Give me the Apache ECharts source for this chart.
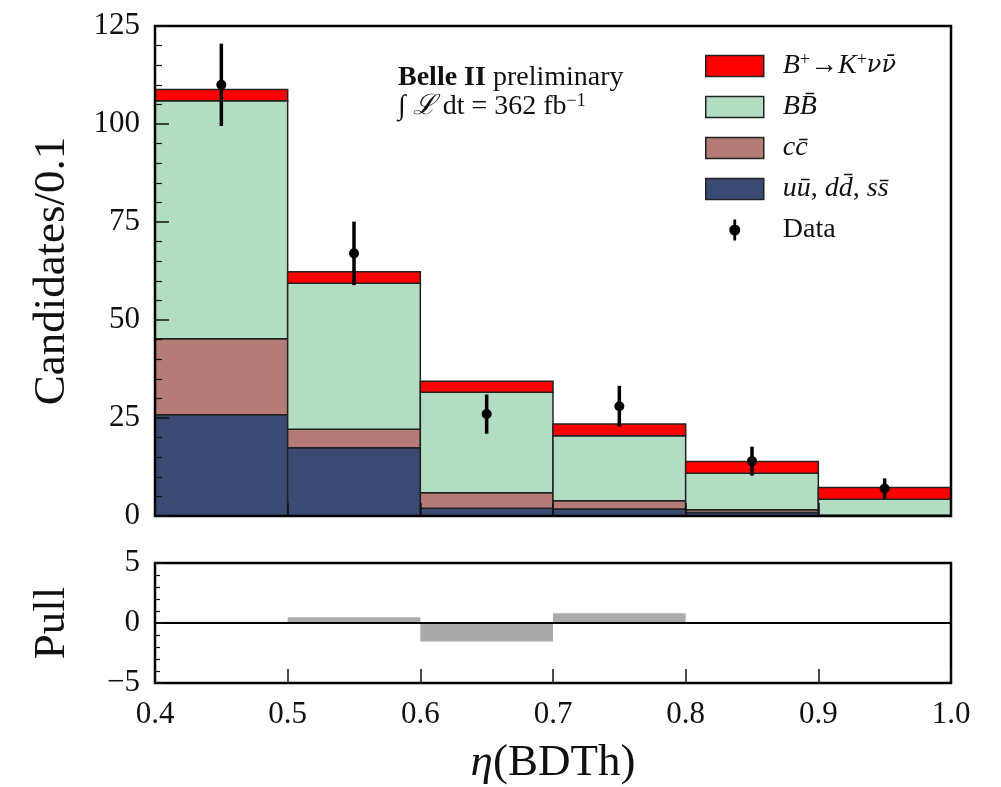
<!DOCTYPE html>
<html>
<head>
<meta charset="utf-8">
<script src="https://cdn.jsdelivr.net/npm/echarts@6/dist/echarts.min.js"></script>
<style>
  html, body { margin: 0; padding: 0; background: #fff; }
  #chart { width: 1001px; height: 787px; }
</style>
</head>
<body>
<div id="chart"></div>
<script>
// bins in eta(BDTh)
const binLow = [0.4, 0.5, 0.6, 0.7, 0.8, 0.9]
const binHigh = [0.5, 0.6, 0.7, 0.8, 0.9, 1.0]
const binCenter = [0.45, 0.55, 0.65, 0.75, 0.85, 0.95]

// stacked templates, bottom to top
const qqbar = [25.8, 17.4, 2.0, 1.8, 0.9, 0.1]
const ccbar = [19.4, 4.7, 3.9, 2.1, 0.7, 0.1]
const bbbar = [60.7, 37.3, 25.7, 16.6, 9.3, 4.1]
const signal = [2.9, 2.9, 2.8, 3.0, 3.0, 3.0]

// data points
const dataY = [110, 67, 26, 28, 14, 7]
const dataErr = [10.5, 8.1, 5.0, 5.2, 3.7, 2.6]

// pull panel
const pull = [0.1, 0.47, -1.55, 0.82, 0.03, -0.08]

const serif = 'Liberation Serif'
const ink = '#111'

// build stacked rect data: [low, high, base, top]
function stackData (values, below) {
  return values.map((v, i) => {
    let base = 0
    below.forEach(arr => { base += arr[i] })
    return [binLow[i], binHigh[i], base, base + v]
  })
}

function rectItem (color) {
  return function (params, api) {
    const p0 = api.coord([api.value(0), api.value(2)])
    const p1 = api.coord([api.value(1), api.value(3)])
    return {
      type: 'rect',
      shape: { x: p0[0], y: p1[1], width: p1[0] - p0[0], height: p0[1] - p1[1] },
      style: { fill: color, stroke: '#222', lineWidth: 1.5 }
    }
  }
}

function stackSeries (name, values, below, color) {
  return {
    name: name,
    type: 'custom',
    xAxisIndex: 0,
    yAxisIndex: 0,
    renderItem: rectItem(color),
    itemStyle: { color: color },
    encode: { x: [0, 1], y: [2, 3] },
    data: stackData(values, below),
    z: 2
  }
}

const chart = echarts.init(document.getElementById('chart'))

const tickLabel = { fontFamily: serif, fontSize: 31, color: ink }
const nameStyle = {
  fontFamily: serif,
  fontSize: 45,
  color: ink,
  rich: { i: { fontFamily: serif, fontStyle: 'italic', fontSize: 45, color: ink } }
}

// legend icon for data: errorbar + dot, corner points keep the 58x21 box
const dataIcon = 'path://M0,0 L0,0 M58,21 L58,21 M27.6,0 L30.4,0 L30.4,21 L27.6,21 Z ' +
  'M23.5,10.5 A5.5,5.5 0 1,1 34.5,10.5 A5.5,5.5 0 1,1 23.5,10.5 Z'

const legendRich = {
  i: { fontFamily: serif, fontStyle: 'italic', fontSize: 28, color: ink, lineHeight: 30 },
  g: { fontFamily: 'DejaVu Serif', fontStyle: 'italic', fontSize: 24, color: ink, lineHeight: 30 },
  n: { fontFamily: serif, fontSize: 28, color: ink, lineHeight: 30 },
  s: { fontFamily: serif, fontSize: 18, color: ink, lineHeight: 18, verticalAlign: 'top' }
}
const legendText = {
  'B+ signal': '{i|B}{s|+}{n|→}{i|K}{s|+}{g|νν̄}',
  'BB': '{i|BB̄}',
  'cc': '{i|cc̄}',
  'qq': '{i|uū}{n|, }{i|dd̄}{n|, }{i|ss̄}',
  'Data': '{n|Data}'
}

const option = {
  animation: false,
  backgroundColor: '#fff',
  grid: [
    { left: 155, top: 26, width: 796, height: 490, show: true, borderColor: '#000', borderWidth: 2.5, z: 10 },
    { left: 155, top: 563, width: 796, height: 123, show: true, borderColor: '#000', borderWidth: 2.5, z: 10 }
  ],
  legend: {
    orient: 'vertical',
    left: 700,
    top: 46,
    itemWidth: 58,
    itemHeight: 21,
    itemGap: 13,
    itemStyle: { borderColor: '#222', borderWidth: 1.5 },
    textStyle: { padding: [0, 0, 0, 14], rich: legendRich },
    formatter: name => legendText[name],
    data: [
      { name: 'B+ signal', icon: 'rect' },
      { name: 'BB', icon: 'rect' },
      { name: 'cc', icon: 'rect' },
      { name: 'qq', icon: 'rect' },
      { name: 'Data', icon: dataIcon, itemStyle: { borderWidth: 0 } }
    ]
  },
  xAxis: [
    {
      type: 'value',
      gridIndex: 0,
      min: 0.4,
      max: 1.0,
      interval: 0.1,
      z: 10,
      axisLine: { show: false, onZero: false },
      axisTick: { inside: true, length: 13, lineStyle: { color: ink, width: 1.5 } },
      axisLabel: { show: false },
      splitLine: { show: false }
    },
    {
      type: 'value',
      gridIndex: 1,
      min: 0.4,
      max: 1.0,
      interval: 0.1,
      z: 10,
      name: '{i|η}(BDTh)',
      nameLocation: 'middle',
      nameGap: 58,
      nameTextStyle: nameStyle,
      axisLine: { show: false, onZero: false },
      axisTick: { inside: true, length: 14, lineStyle: { color: ink, width: 1.5 } },
      axisLabel: Object.assign({ margin: 16, formatter: v => v.toFixed(1) }, tickLabel),
      splitLine: { show: false }
    }
  ],
  yAxis: [
    {
      type: 'value',
      gridIndex: 0,
      min: 0,
      max: 125,
      interval: 25,
      z: 10,
      name: 'Candidates/0.1',
      nameLocation: 'middle',
      nameGap: 80,
      nameTextStyle: nameStyle,
      axisLine: { show: false },
      axisTick: { inside: true, length: 14, lineStyle: { color: ink, width: 1.5 } },
      minorTick: { show: true, splitNumber: 5, length: 7, lineStyle: { color: ink, width: 1.2 } },
      axisLabel: Object.assign({ margin: 15 }, tickLabel),
      splitLine: { show: false }
    },
    {
      type: 'value',
      gridIndex: 1,
      min: -5,
      max: 5,
      interval: 5,
      z: 10,
      name: 'Pull',
      nameLocation: 'middle',
      nameGap: 80,
      nameTextStyle: nameStyle,
      axisLine: { show: false },
      axisTick: { inside: true, length: 9, lineStyle: { color: ink, width: 1.5 } },
      minorTick: { show: true, splitNumber: 5, length: 5, lineStyle: { color: ink, width: 1.2 } },
      axisLabel: Object.assign({ margin: 15, formatter: v => (v < 0 ? '−' + Math.abs(v) : String(v)) }, tickLabel),
      splitLine: { show: false }
    }
  ],
  graphic: [
    {
      type: 'text',
      left: 398,
      top: 64,
      style: {
        text: '{b|Belle II }{n|preliminary}',
        rich: {
          b: { fontFamily: serif, fontWeight: 'bold', fontSize: 28, fill: ink },
          n: { fontFamily: serif, fontSize: 28, fill: ink }
        }
      }
    },
    {
      type: 'text',
      left: 398,
      top: 92,
      style: {
        text: '{n|∫ }{i|ℒ}{n| dt = 362 fb}{s|−1}',
        rich: {
          i: { fontFamily: serif, fontStyle: 'italic', fontSize: 28, fill: ink, lineHeight: 30 },
          n: { fontFamily: serif, fontSize: 28, fill: ink, lineHeight: 30 },
          s: { fontFamily: serif, fontSize: 18, fill: ink, lineHeight: 18, verticalAlign: 'top' }
        }
      }
    }
  ],
  series: [
    stackSeries('qq', qqbar, [], '#3b4a72'),
    stackSeries('cc', ccbar, [qqbar], '#b57b76'),
    stackSeries('BB', bbbar, [qqbar, ccbar], '#b2ddc3'),
    stackSeries('B+ signal', signal, [qqbar, ccbar, bbbar], '#ff0000'),
    {
      name: 'Data',
      type: 'custom',
      xAxisIndex: 0,
      yAxisIndex: 0,
      itemStyle: { color: '#000' },
      encode: { x: 0, y: [1, 2] },
      data: binCenter.map((x, i) => [x, dataY[i] - dataErr[i], dataY[i] + dataErr[i], dataY[i]]),
      renderItem: function (params, api) {
        const lo = api.coord([api.value(0), api.value(1)])
        const hi = api.coord([api.value(0), api.value(2)])
        const mid = api.coord([api.value(0), api.value(3)])
        return {
          type: 'group',
          children: [
            { type: 'line', shape: { x1: lo[0], y1: lo[1], x2: hi[0], y2: hi[1] }, style: { stroke: '#000', lineWidth: 3.5 } },
            { type: 'circle', shape: { cx: mid[0], cy: mid[1], r: 5 }, style: { fill: '#000' } }
          ]
        }
      },
      z: 5
    },
    {
      name: 'pull',
      type: 'custom',
      xAxisIndex: 1,
      yAxisIndex: 1,
      encode: { x: [0, 1], y: 2 },
      data: pull.map((p, i) => [binLow[i], binHigh[i], p]),
      renderItem: function (params, api) {
        const p0 = api.coord([api.value(0), 0])
        const p1 = api.coord([api.value(1), api.value(2)])
        return {
          type: 'rect',
          shape: {
            x: p0[0],
            y: Math.min(p0[1], p1[1]),
            width: p1[0] - p0[0],
            height: Math.abs(p1[1] - p0[1])
          },
          style: { fill: '#aaaaaa' }
        }
      },
      markLine: {
        silent: true,
        symbol: 'none',
        label: { show: false },
        lineStyle: { color: '#000', width: 2, type: 'solid' },
        data: [{ yAxis: 0 }]
      },
      z: 2
    }
  ]
}

chart.setOption(option)
</script>
</body>
</html>
